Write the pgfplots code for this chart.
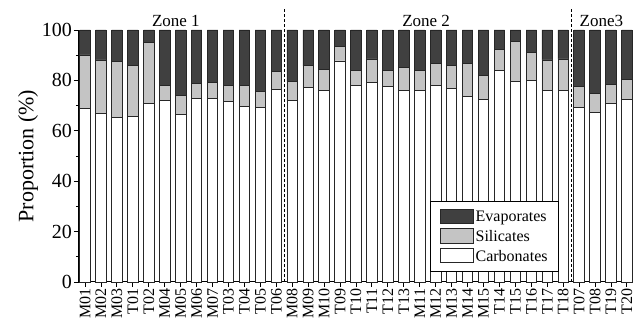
\documentclass[border=0pt]{standalone}
\usepackage{fontspec}
\setmainfont{Liberation Serif}
\usepackage{pgfplots}
\usepackage{pgfplotstable}
\pgfplotsset{compat=1.18}
\definecolor{evap}{HTML}{404040}
\definecolor{sil}{HTML}{C4C4C4}
\definecolor{edge}{HTML}{262626}
\pgfplotstableread{
x name carb sil evap
0 M01 68.9 21.2 9.9
1 M02 66.9 21.2 11.9
2 M03 65.3 22.1 12.6
3 T01 65.8 20.0 14.2
4 T02 70.9 24.0 5.1
5 M04 71.9 6.2 21.9
6 M05 66.6 7.6 25.8
7 M06 72.7 6.1 21.2
8 M07 72.7 6.5 20.8
9 T03 71.5 6.6 21.9
10 T04 69.5 8.4 22.1
11 T05 69.1 6.5 24.4
12 T06 76.5 6.9 16.6
13 M08 72.0 7.7 20.3
14 M09 77.1 8.7 14.2
15 M10 76.1 8.1 15.8
16 T09 87.7 5.7 6.6
17 T10 77.9 5.9 16.2
18 T11 79.1 9.4 11.5
19 T12 77.5 6.6 15.9
20 T13 75.9 9.1 15.0
21 M11 76.1 8.0 15.9
22 M12 78.0 8.8 13.2
23 M13 76.8 9.0 14.2
24 M14 73.8 13.0 13.2
25 M15 72.6 9.5 17.9
26 T14 84.1 8.2 7.7
27 T15 79.5 15.8 4.7
28 T16 80.1 11.0 8.9
29 T17 75.9 12.2 11.9
30 T18 75.9 12.6 11.5
31 T07 69.1 8.4 22.5
32 T08 67.3 7.5 25.2
33 T19 70.9 7.6 21.5
34 T20 72.4 8.1 19.5
}\data
\begin{document}
\begin{tikzpicture}
\begin{axis}[
  at={(0pt,0pt)}, anchor=south west,
  scale only axis,
  width=553pt, height=252pt,
  ybar stacked,
  bar width=10.5pt,
  xmin=-0.38, xmax=34.32,
  ymin=0, ymax=100,
  clip=false,
  axis x line*=bottom, axis y line*=left,
  axis line style={line width=1pt, -},
  tick align=outside,
  xtick=data,
  xticklabels from table={\data}{name},
  x tick label style={rotate=90, anchor=east, font=\fontsize{16}{18}\selectfont, inner sep=1.5pt},
  ytick={0,20,40,60,80,100},
  minor y tick num=1,
  y tick label style={font=\fontsize{20}{22}\selectfont, inner sep=2pt},
  /pgf/number format/assume math mode=true,
  major tick length=5pt, minor tick length=3pt,
  tick style={line width=0.9pt, black},
  ylabel={Proportion (\%)},
  ylabel style={at={(axis description cs:-0.0922,0.5)}, anchor=center, font=\fontsize{22}{25}\selectfont},
  reverse legend,
  legend style={draw=black, line width=0.8pt, at={(rel axis cs:0.868,0.04)}, anchor=south east,
    font=\fontsize{16}{18}\selectfont, inner xsep=9pt, inner ysep=7pt, row sep=3pt,
    cells={anchor=west}},
  legend image code/.code={\draw[#1, line width=0.8pt] (0pt,-6.5pt) rectangle (33pt,8pt);},
]
\addplot[fill=white, draw=edge, line width=0.8pt] table[x=x, y=carb] {\data};
\addlegendentry{Carbonates}
\addplot[fill=sil, draw=edge, line width=0.8pt] table[x=x, y=sil] {\data};
\addlegendentry{Silicates}
\addplot[fill=evap, draw=edge, line width=0.8pt] table[x=x, y=evap] {\data};
\addlegendentry{Evaporates}
\end{axis}
\begin{axis}[
  at={(0pt,0pt)}, anchor=south west,
  scale only axis,
  width=553pt, height=252pt,
  xmin=-0.38, xmax=34.32,
  ymin=0, ymax=100,
  clip=false, hide axis,
]
\addplot[black, densely dashed, line width=0.9pt] coordinates {(12.5,0) (12.5,108.7)};
\addplot[black, densely dashed, line width=0.9pt] coordinates {(30.5,0) (30.5,108.7)};
\node[anchor=base, font=\fontsize{17}{19}\selectfont] at (axis cs:5.7,100) [yshift=3pt] {Zone 1};
\node[anchor=base, font=\fontsize{17}{19}\selectfont] at (axis cs:21.4,100) [yshift=3pt] {Zone 2};
\node[anchor=base, font=\fontsize{17}{19}\selectfont] at (axis cs:32.4,100) [yshift=3pt] {Zone3};
\end{axis}
\pgfresetboundingbox
\path[use as bounding box] (-79pt,-39pt) rectangle (561pt,282pt);
\end{tikzpicture}
\end{document}
